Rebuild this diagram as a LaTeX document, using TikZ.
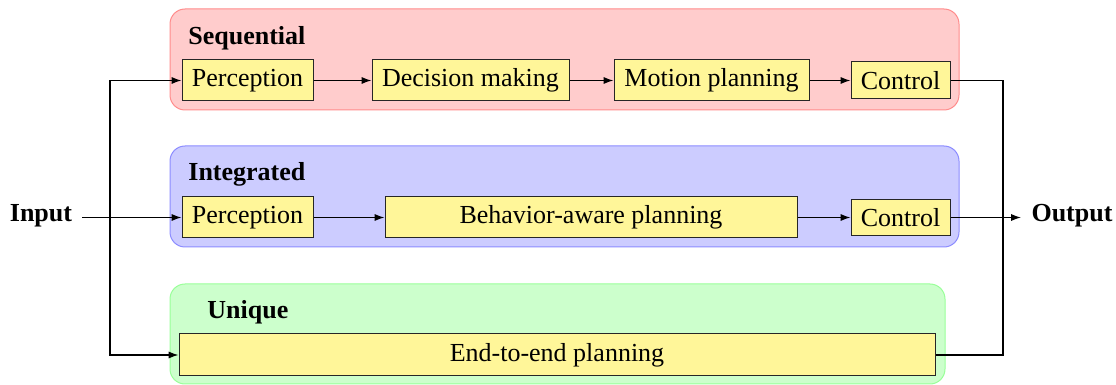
\documentclass[tikz,border=0pt]{standalone}
\usepackage{fontspec}
\setmainfont{Liberation Serif}
\usetikzlibrary{arrows.meta}
\definecolor{boxyellow}{RGB}{255,246,153}
\tikzset{
  px/.style={x=0.5pt,y=-0.5pt},
  group/.style={rounded corners=7.5pt, line width=0.5pt},
  stage/.style={draw=black!85, fill=boxyellow, line width=0.5pt, inner sep=0pt,
    font=\fontsize{13}{15}\selectfont, anchor=center},
  grouplabel/.style={font=\fontsize{13}{15}\selectfont\bfseries, anchor=west, inner sep=0pt},
  ioLabel/.style={font=\fontsize{13}{15}\selectfont\bfseries, inner sep=0pt},
  conn/.style={line width=0.6pt, -{Latex[length=5pt,width=3.6pt]}},
  plain/.style={line width=0.6pt}
}
\begin{document}
\begin{tikzpicture}[px]
\useasboundingbox (0,0) rectangle (1116,385);
% groups
\draw[group, fill=red!20, draw=red!45] (170,9) rectangle (959,110);
\draw[group, fill=blue!20, draw=blue!45] (170,146) rectangle (959,247);
\draw[group, fill=green!20, draw=green!40] (170,284) rectangle (945,384);
\node[grouplabel] (lseq) at (188,38) {Sequential};
\node[grouplabel] (lint) at (188,174) {Integrated};
\node[grouplabel] (luni) at (207,312) {Unique};
% sequential row
\node[stage, minimum width=65.5pt, minimum height=20.5pt] (sp) at (247.5,80.5) {Perception};
\node[stage, minimum width=98.5pt, minimum height=20.5pt] (sd) at (470.5,80.5) {Decision making};
\node[stage, minimum width=97.5pt, minimum height=20.5pt] (sm) at (711.5,80.5) {Motion planning};
\node[stage, minimum width=49.5pt, minimum height=18.5pt] (sc) at (900.5,80.5) {Control};
% integrated row
\node[stage, minimum width=65.5pt, minimum height=20.5pt] (ip) at (247.5,217.5) {Perception};
\node[stage, minimum width=206pt, minimum height=20.5pt] (ib) at (591,217.5) {Behavior-aware planning};
\node[stage, minimum width=49.5pt, minimum height=18pt] (ic) at (900.5,217.5) {Control};
% unique row
\node[stage, minimum width=378pt, minimum height=21pt] (ue) at (557,355) {End-to-end planning};
% io
\node[ioLabel] (in) at (41,216) {Input};
\node[ioLabel] (out) at (1072,216) {Output};
\coordinate (split) at (110,217.5);
\coordinate (merge) at (1003,217.5);
\coordinate (outend) at (1021,217.5);
% connectors
\draw[conn] (sp) -- (sd);
\draw[conn] (sd) -- (sm);
\draw[conn] (sm) -- (sc);
\draw[conn] (ip) -- (ib);
\draw[conn] (ib) -- (ic);
\draw[conn] (in.east) ++(10,1.5) -- (ip.west);
\draw[conn] (split) |- (sp.west);
\draw[conn] (split) |- (ue.west);
\draw[plain] (sc.east) -| (merge);
\draw[plain] (ue.east) -| (merge);
\draw[conn] (ic.east) -- (outend);
\end{tikzpicture}
\end{document}
